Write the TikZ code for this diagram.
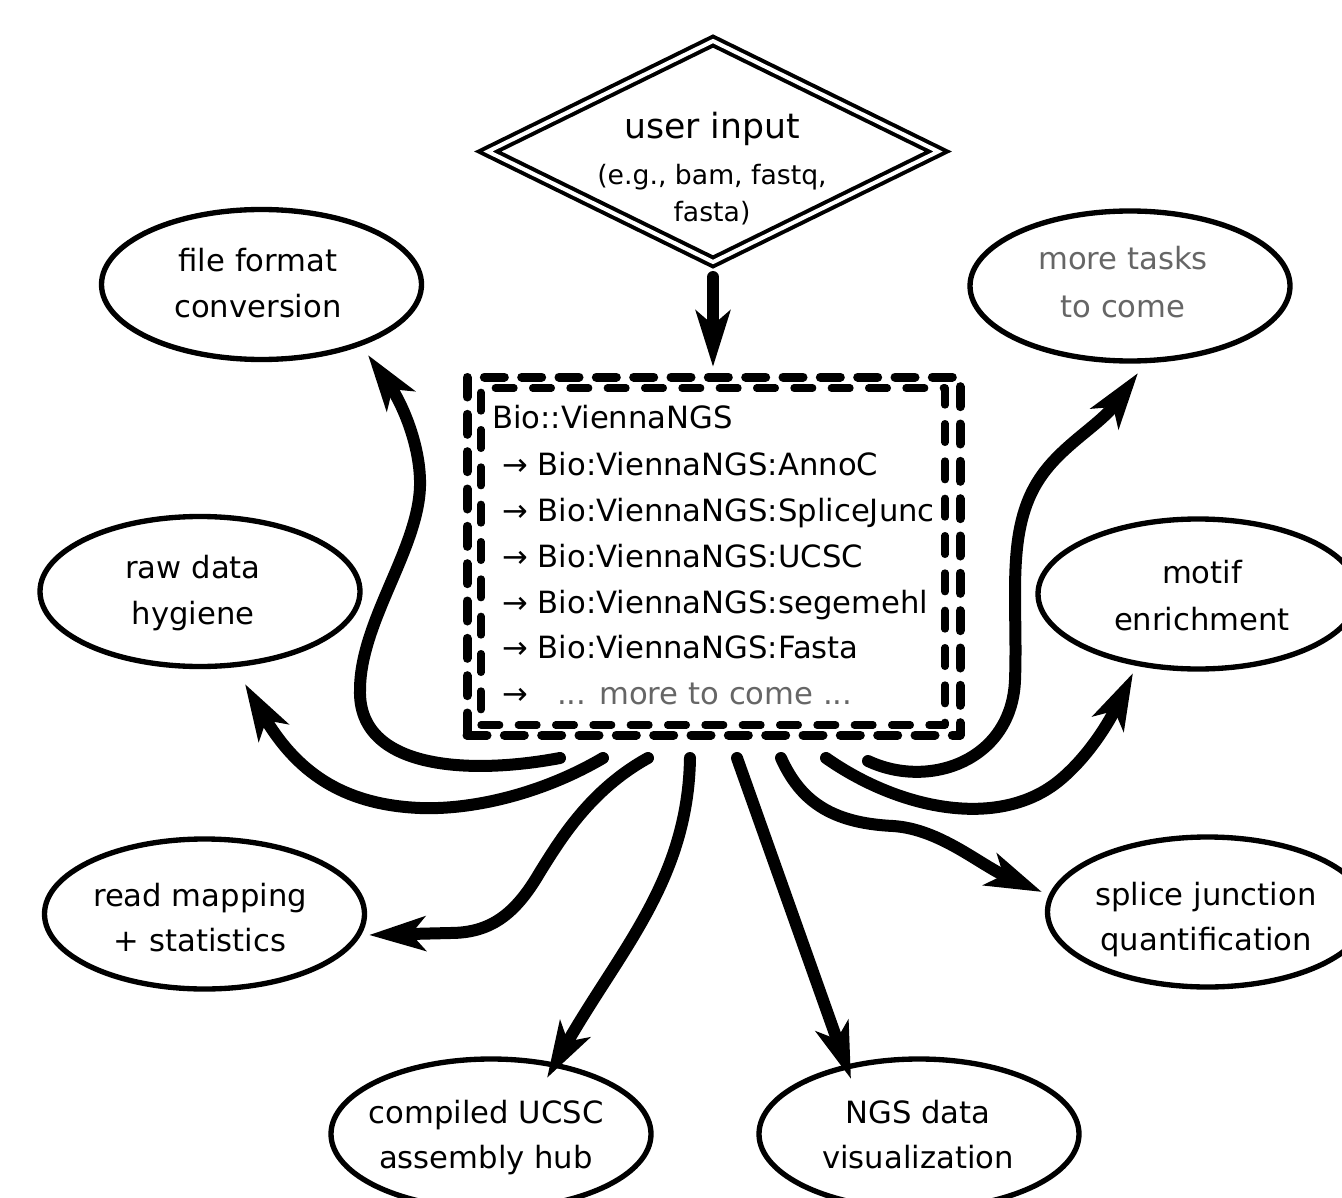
\documentclass[tikz,border=0pt]{standalone}
\usepackage{fontspec}
\setmainfont{DejaVu Sans}
\usetikzlibrary{shapes.geometric,arrows.meta}
\definecolor{txtgray}{HTML}{666666}
\begin{document}
\begin{tikzpicture}[x=0.75pt,y=-0.75pt,
  bubble/.style={ellipse,draw,line width=4pt,fill=white,minimum width=240pt,minimum height=112.5pt,inner sep=0pt},
  lbl/.style={font=\fontsize{23pt}{34.5pt}\selectfont,inner sep=0pt,anchor=base},
  boxline/.style={font=\fontsize{23pt}{34.5pt}\selectfont,inner sep=0pt,anchor=base west},
  inputdiamond/.style={diamond,draw,line width=3pt,double,double distance=3pt,minimum width=339pt,minimum height=167pt,inner sep=0pt},
  outerbox/.style={rectangle,draw,line width=6.75pt,line cap=round,line join=round,dash pattern=on 15pt off 13pt,minimum width=369.75pt,minimum height=268.5pt,inner sep=0pt},
  innerbox/.style={rectangle,draw,line width=5.5pt,line cap=round,line join=round,dash pattern=on 14pt off 14pt,minimum width=348pt,minimum height=252.75pt,inner sep=0pt},
  flow/.style={line width=9pt,line cap=round,-{Stealth[length=42pt,width=25.5pt,inset=10.5pt]}}
]
\path[use as bounding box] (0,0) rectangle (1342,1198);
\clip (0,0) rectangle (1342,1198);

% input diamond
\node[inputdiamond] (input) at (713,151.5) {};
\node[lbl,font=\fontsize{26pt}{30pt}\selectfont] (in1) at (712,139) {user input};
\node[lbl,font=\fontsize{20pt}{24pt}\selectfont] (in2) at (712,185) {(e.g., bam, fastq,};
\node[lbl,font=\fontsize{20pt}{24pt}\selectfont] (in3) at (712,222) {fasta)};

% central box
\node[outerbox] (box) at (713.5,556) {};
\node[innerbox] (boxin) at (713,556.5) {};
\node[boxline] (m0) at (492,428) {Bio::ViennaNGS};
\node[boxline] (m1) at (502,475) {→ Bio:ViennaNGS:AnnoC};
\node[boxline] (m2) at (502,521) {→ Bio:ViennaNGS:SpliceJunc};
\node[boxline] (m3) at (502,567) {→ Bio:ViennaNGS:UCSC};
\node[boxline] (m4) at (502,613) {→ Bio:ViennaNGS:segemehl};
\node[boxline] (m5) at (502,658) {→ Bio:ViennaNGS:Fasta};
\node[boxline] (m6) at (502,704) {→\hspace{0.95em}\textcolor{txtgray}{... more to come ...}};

% task ellipses
\node[bubble] (ffc) at (261.5,284.5) {};
\node[lbl] (ffc1) at (258,272) {file format};
\node[lbl] (ffc2) at (258,318) {conversion};

\node[bubble] (more) at (1130,286) {};
\node[lbl,text=txtgray] (more1) at (1123,270) {more tasks};
\node[lbl,text=txtgray] (more2) at (1123,317) {to come};

\node[bubble] (raw) at (200,591.5) {};
\node[lbl] (raw1) at (193,578) {raw data};
\node[lbl] (raw2) at (193,624) {hygiene};

\node[bubble] (motif) at (1198,594) {};
\node[lbl] (motif1) at (1202,583) {motif};
\node[lbl] (motif2) at (1202,630) {enrichment};

\node[bubble] (read) at (204.5,914) {};
\node[lbl] (read1) at (200,906) {read mapping};
\node[lbl] (read2) at (200,951) {+ statistics};

\node[bubble] (splice) at (1207.5,912) {};
\node[lbl] (splice1) at (1206,905) {splice junction};
\node[lbl] (splice2) at (1206,950) {quantification};

\node[bubble] (ucsc) at (491,1134) {};
\node[lbl] (ucsc1) at (486,1123) {compiled UCSC};
\node[lbl] (ucsc2) at (486,1168) {assembly hub};

\node[bubble] (ngs) at (919,1134) {};
\node[lbl] (ngs1) at (918,1123) {NGS data};
\node[lbl] (ngs2) at (918,1168) {visualization};

% connector ends
\coordinate (a0) at (713,277);
\coordinate (a1) at (713,367);
\coordinate (s1) at (560,758);
\coordinate (t1) at (368,355);
\coordinate (s2) at (603,758);
\coordinate (t2) at (245,684);
\coordinate (s3) at (648,758);
\coordinate (t3) at (369,935);
\coordinate (s4) at (690,758);
\coordinate (t4) at (547,1078);
\coordinate (s5) at (737,758);
\coordinate (t5) at (851,1079);
\coordinate (s6) at (781,758);
\coordinate (t6) at (1042,892);
\coordinate (s7) at (826,758);
\coordinate (t7) at (1133,673);
\coordinate (s8) at (868,761);
\coordinate (t8) at (1138,373);

% connectors
\draw[flow] (a0) -- (a1);
\draw[flow] (s1) .. controls (470,775) and (358,770) .. (360,690)
  .. controls (360,620) and (422,545) .. (420,480)
  .. controls (419,440) and (400,400) .. (t1);
\draw[flow] (s2) .. controls (540,795) and (470,810) .. (420,808)
  .. controls (350,805) and (300,778) .. (t2);
\draw[flow] (s3) .. controls (590,790) and (560,840) .. (540,872)
  .. controls (515,915) and (490,933) .. (450,933) -- (t3);
\draw[flow] (s4) .. controls (688,880) and (620,950) .. (t4);
\draw[flow] (s5) -- (t5);
\draw[flow] (s6) .. controls (800,800) and (830,823) .. (893,826)
  .. controls (940,829) and (980,865) .. (t6);
\draw[flow] (s7) .. controls (900,810) and (1000,830) .. (1060,780)
  .. controls (1090,755) and (1110,720) .. (t7);
\draw[flow] (s8) .. controls (930,790) and (1012,760) .. (1015,680)
  .. controls (1018,600) and (1005,530) .. (1040,478)
  .. controls (1062,445) and (1100,425) .. (t8);
\end{tikzpicture}
\end{document}
